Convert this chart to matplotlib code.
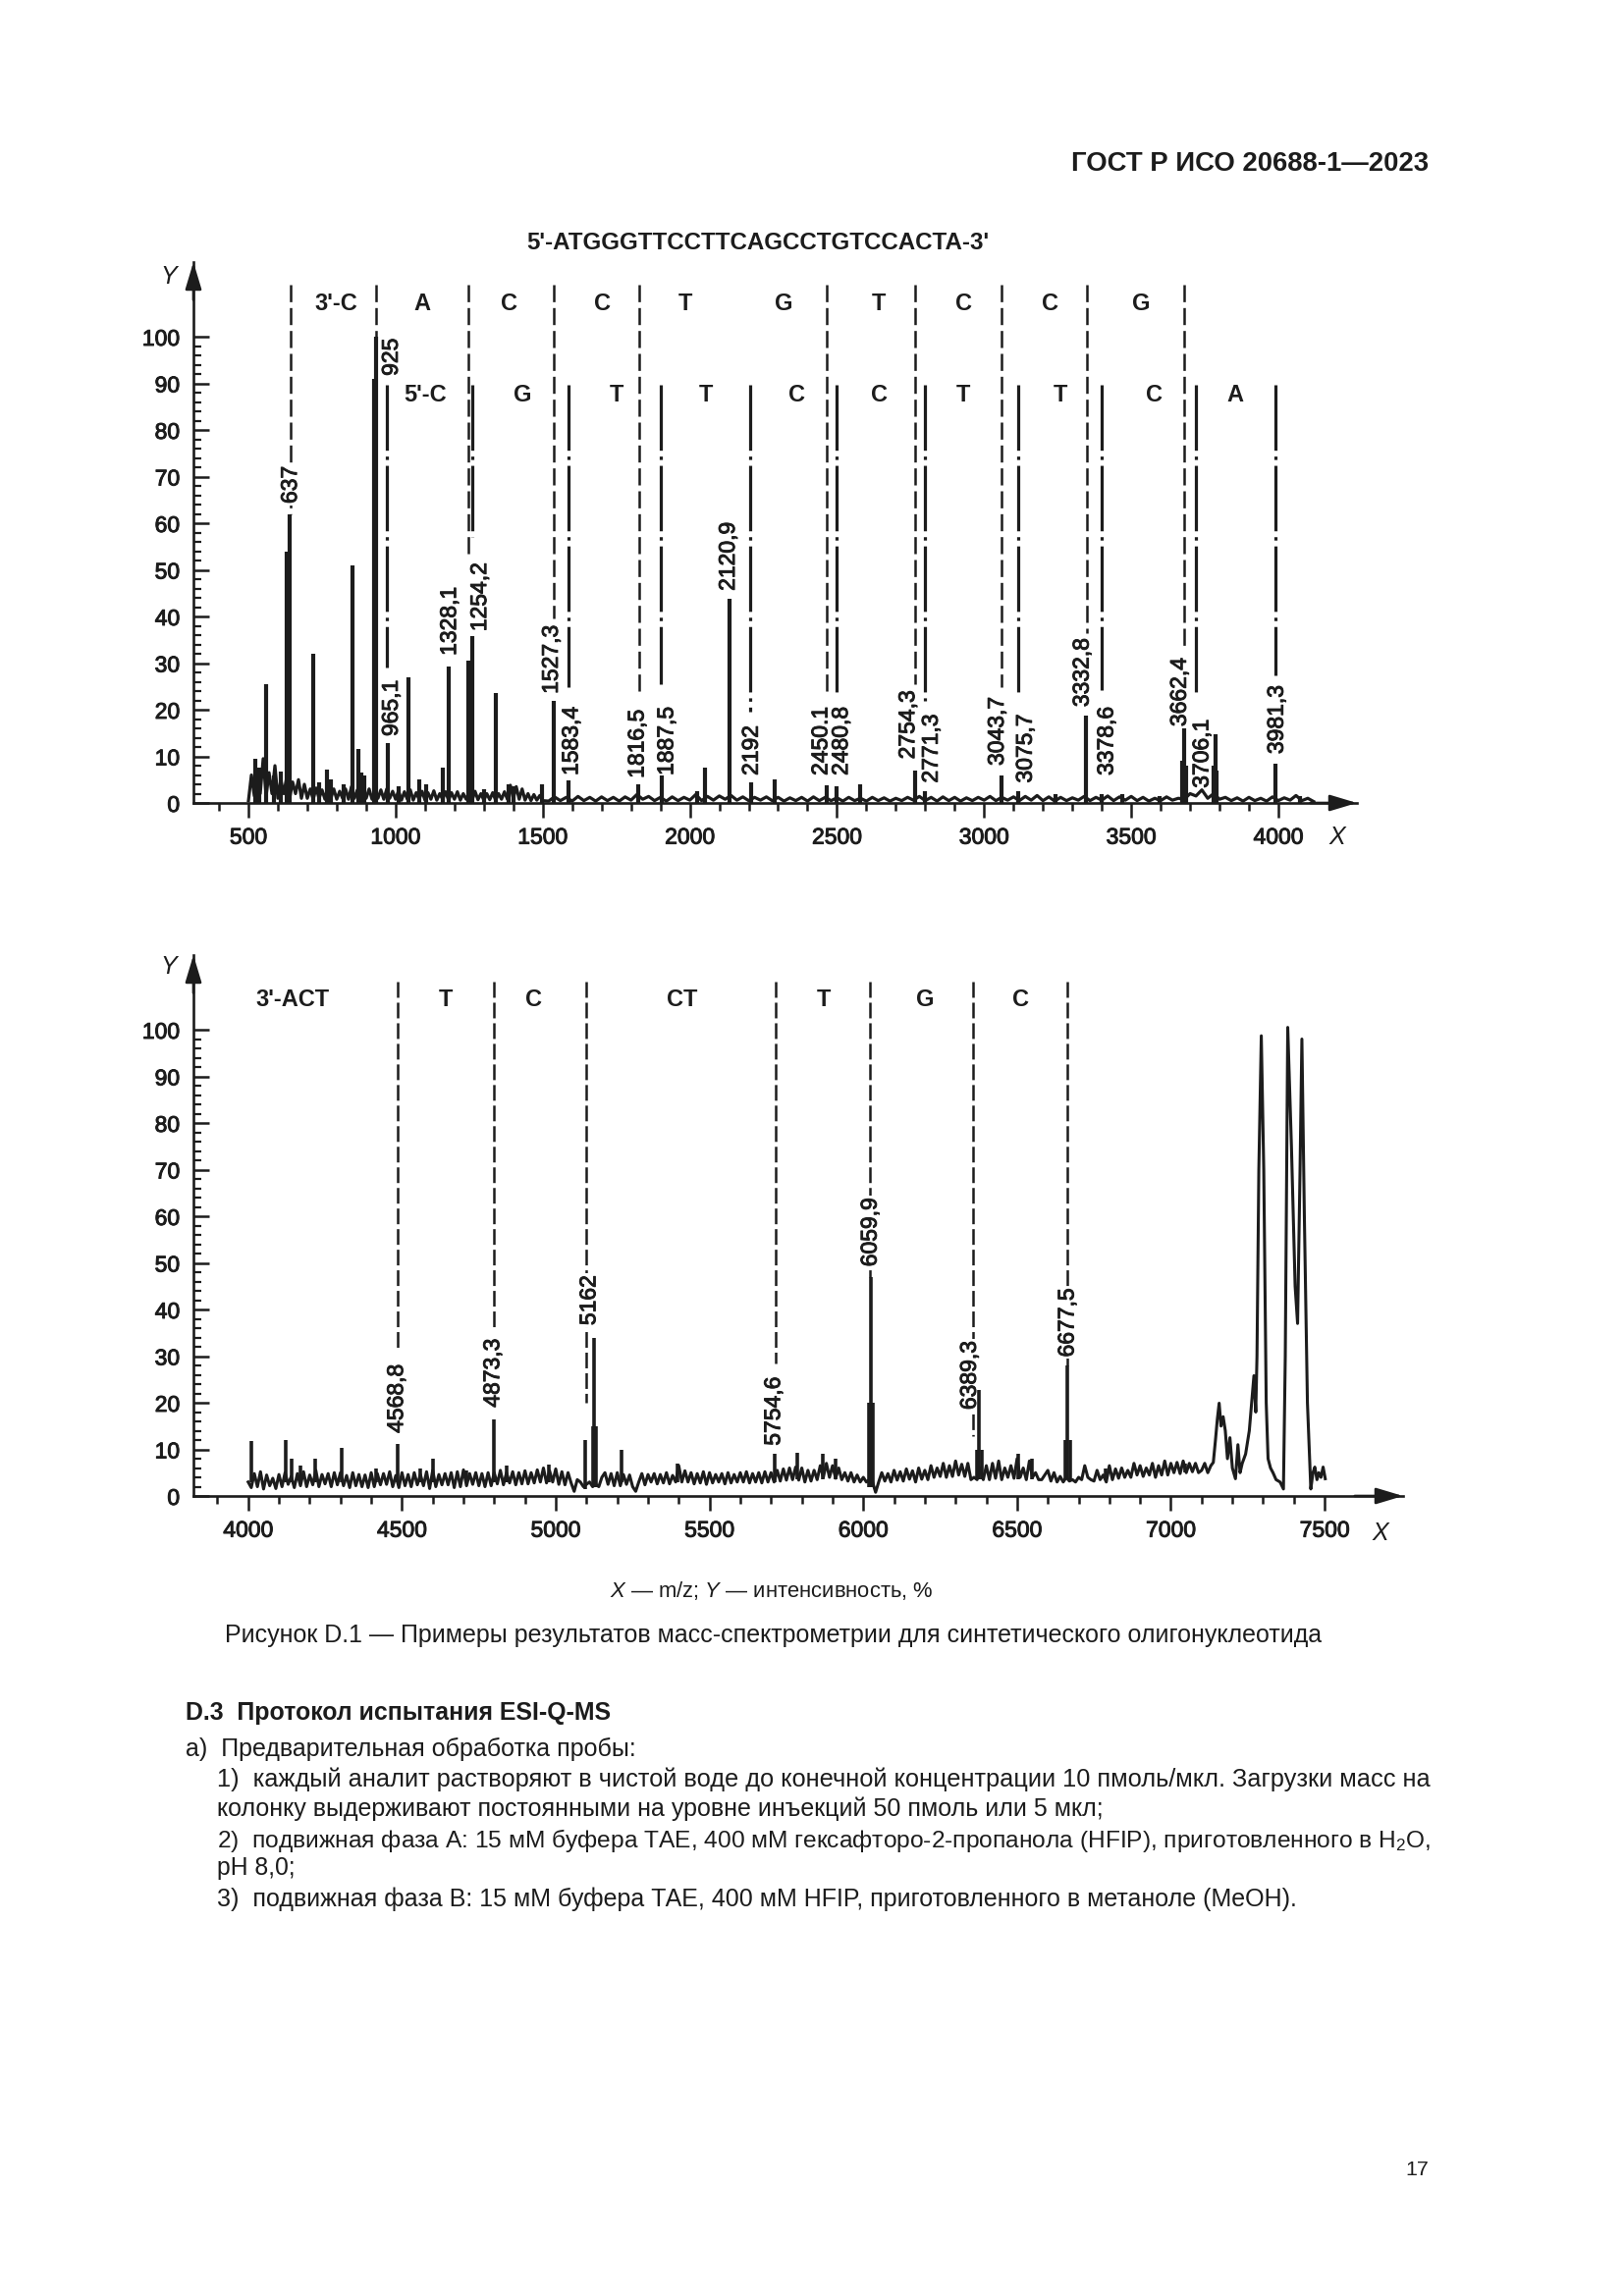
"""Page 17 of GOST R ISO 20688-1-2023: figure D.1 (mass spectra of a synthetic oligonucleotide) + text.

Peak positions/heights are read off the scanned page; labels are kept exactly as printed there
(they do not always sit on the axis value they name, so both are stored separately).
"""

import matplotlib

matplotlib.use("Agg")
import matplotlib.patheffects as pe
import matplotlib.pyplot as plt
import numpy as np

plt.rcParams["font.family"] = ["Liberation Sans", "DejaVu Sans"]
plt.rcParams["mathtext.fontset"] = "custom"
plt.rcParams["mathtext.rm"] = "Liberation Sans"
plt.rcParams["mathtext.it"] = "Liberation Sans:italic"
plt.rcParams["lines.scale_dashes"] = False

INK = "#1c1c1c"
W, H, DPI = 1654, 2339, 100
HEAVY = [pe.withStroke(linewidth=0.7, foreground=INK)]  # the scan prints chart numbers quite heavy

# --- top spectrum: 500..4120 m/z ---
top_noise_a = [  # 500..1500 step 10
    0.5, 6.0, 1.5, 5.5, 2.0, 9.5, 1.5, 6.5, 2.0, 8.0,
    1.0, 5.0, 2.0, 5.5, 1.0, 4.5, 2.0, 5.0, 1.0, 4.0,
    1.0, 3.0, 0.8, 3.2, 1.0, 2.8, 0.8, 3.5, 1.0, 3.0,
    0.8, 2.5, 1.0, 3.0, 0.8, 3.5, 1.0, 2.8, 0.8, 3.2,
    1.0, 3.0, 0.8, 2.6, 1.0, 2.8, 0.8, 3.0, 1.0, 2.5,
    0.8, 2.6, 0.6, 2.4, 0.8, 2.8, 0.6, 2.2, 0.8, 2.5,
    0.6, 2.2, 0.8, 2.6, 0.6, 2.0, 0.8, 2.4, 0.6, 2.2,
    0.8, 2.4, 0.6, 2.0, 0.8, 2.2, 0.6, 2.5, 0.7, 2.0,
    0.6, 2.0, 0.7, 2.2, 0.6, 2.0, 0.8, 2.4, 0.8, 3.8,
    1.0, 3.5, 0.8, 3.0, 0.6, 2.0, 0.5, 1.8, 0.6, 1.6,
    0.5,
]
top_noise_b = [  # 1520..4120 step 20
    0.4, 1.3, 0.5, 1.2, 0.4, 1.4, 0.5, 1.2, 0.4, 1.3,
    0.5, 1.2, 0.4, 1.3, 0.6, 1.8, 0.8, 1.4, 0.5, 1.2,
    0.4, 1.3, 0.5, 1.2, 0.6, 1.8, 0.5, 1.4, 0.6, 1.5,
    0.8, 1.6, 0.6, 1.3, 0.5, 1.2, 0.6, 1.3, 0.5, 1.2,
    0.4, 1.1, 0.5, 1.2, 0.4, 1.3, 0.5, 1.2, 0.5, 1.1,
    0.4, 1.2, 0.5, 1.0, 0.4, 1.2, 0.5, 1.1, 0.4, 1.0,
    0.5, 1.2, 0.6, 1.4, 0.5, 1.2, 0.4, 1.3, 0.5, 1.2,
    0.4, 1.1, 0.5, 1.2, 0.6, 1.4, 0.5, 1.2, 0.6, 1.3,
    0.5, 1.4, 0.6, 1.6, 0.5, 1.3, 0.4, 1.2, 0.5, 1.1,
    0.6, 1.4, 0.5, 1.2, 0.6, 1.5, 0.5, 1.3, 0.6, 1.4,
    0.5, 1.2, 0.4, 1.0, 0.5, 1.3, 0.6, 1.0, 0.8, 2.0,
    1.5, 2.8, 1.0, 2.0, 0.8, 1.2, 0.5, 1.1, 0.4, 1.2,
    0.5, 1.0, 0.4, 1.3, 0.5, 1.1, 0.6, 1.6, 0.5, 1.0,
    0.3,
]
top_peak_mz = [524, 538, 561, 585, 611, 631, 641, 721, 740, 766, 781, 823, 853, 873, 885,
               895, 928, 934, 972, 1009, 1044, 1082, 1105, 1161, 1180, 1247, 1262, 1300, 1340, 1385,
               1400, 1497, 1539, 1587, 1825, 1903, 2024, 2052, 2134, 2207, 2288, 2466, 2497, 2578, 2766,
               2798, 3058, 3116, 3241, 3347, 3399, 3471, 3595, 3674, 3680, 3686, 3779, 3785, 3791, 3990,
               4074]
top_peak_int = [9.5, 7.5, 25.5, 6.0, 6.8, 54.0, 62.0, 32.0, 4.5, 7.2, 5.0, 4.0, 51.0, 11.5, 6.5,
                6.0, 91.0, 100.0, 12.9, 3.5, 27.0, 5.0, 4.0, 7.5, 29.3, 30.5, 35.8, 3.0, 23.5, 4.0,
                3.5, 4.0, 21.9, 4.8, 4.0, 5.8, 2.5, 7.5, 43.8, 4.5, 5.0, 3.7, 3.5, 3.9, 7.0,
                2.5, 5.8, 2.5, 2.0, 18.7, 2.0, 2.0, 1.5, 9.0, 15.9, 8.0, 8.0, 14.7, 7.0, 8.4,
                1.5]

top_labels = ["637", "925", "965,1", "1328,1", "1254,2", "1527,3", "1583,4", "1816,5", "1887,5", "2120,9",
              "2192", "2450,1", "2480,8", "2754,3", "2771,3", "3043,7", "3075,7", "3332,8", "3378,6",
              "3662,4", "3706,1", "3981,3"]
top_label_mz = [642, 985, 985, 1183, 1286, 1529, 1597, 1821, 1921, 2130, 2209, 2445, 2514, 2741, 2820,
                3044, 3140, 3333, 3416, 3664, 3740, 3994]
top_label_y = [64.2, 91.6, 14.3, 31.6, 36.8, 23.4, 5.9, 5.3, 5.9, 45.5, 5.9, 5.9, 5.9, 9.4, 4.3,
               8.0, 4.3, 20.6, 5.9, 16.4, 3.2, 10.5]

# 3'-ladder (dashed) and 5'-ladder (dash-dot)
top_row1_mz = [642, 934, 1246, 1538, 1827, 2466, 2766, 3058, 3348, 3680]
top_row1_end = [62.0, 100.0, 52.2, 39.6, 23.4, 23.4, 25.5, 24.9, 36.5, 32.8]
top_row1_base = ["3'-C", "A", "C", "C", "T", "G", "T", "C", "C", "G"]
top_row1_base_mz = [798, 1089, 1386, 1702, 1985, 2319, 2642, 2931, 3223, 3533]
top_row2_mz = [971, 1260, 1586, 1902, 2206, 2497, 2798, 3117, 3399, 3719, 3990]
top_row2_end = [29.0, 57.1, 24.8, 25.5, 19.6, 23.4, 22.0, 23.3, 24.2, 22.8, 27.4]
top_row2_base = ["5'-C", "G", "T", "T", "C", "C", "T", "T", "C", "A"]
top_row2_base_mz = [1101, 1432, 1750, 2055, 2364, 2645, 2930, 3259, 3577, 3853]

# --- bottom spectrum: 4000..7500 m/z ---
bot_noise = [  # 4000..7100 step 10
    3.0, 1.8, 4.8, 2.0, 5.2, 1.5, 4.5, 2.2, 3.8, 1.6,
    4.6, 2.0, 5.0, 2.5, 4.2, 1.8, 4.8, 2.2, 5.2, 2.0,
    4.5, 2.4, 5.5, 2.0, 4.6, 2.6, 4.8, 2.0, 5.0, 2.4,
    5.0, 2.2, 4.4, 1.8, 5.0, 2.2, 4.6, 2.0, 4.5, 1.8,
    5.0, 2.0, 4.8, 2.4, 4.8, 2.5, 5.2, 2.0, 4.4, 1.8,
    5.0, 2.2, 4.6, 2.0, 5.0, 2.4, 4.6, 2.2, 5.2, 1.6,
    5.5, 2.0, 4.6, 2.4, 4.8, 2.4, 5.0, 1.8, 5.2, 2.0,
    5.6, 2.2, 4.8, 2.5, 5.0, 2.2, 4.8, 2.0, 5.0, 2.2,
    5.0, 2.6, 5.5, 2.4, 5.0, 2.8, 5.2, 2.4, 5.0, 2.6,
    5.4, 2.6, 5.0, 2.8, 5.6, 3.0, 6.0, 2.8, 5.4, 3.0,
    5.8, 2.5, 5.2, 2.4, 5.0, 2.8, 1.0, 3.5, 3.0, 2.0,
    2.5, 3.0, 2.0, 2.5, 2.0, 4.0, 5.0, 2.5, 4.8, 2.2,
    5.0, 2.2, 4.6, 2.5, 4.5, 2.0, 1.0, 3.0, 4.8, 2.4,
    4.6, 3.0, 4.8, 2.6, 4.6, 2.8, 5.0, 2.6, 4.4, 3.0,
    6.5, 3.0, 5.4, 3.0, 5.0, 2.6, 4.8, 2.8, 5.2, 2.5,
    5.0, 2.8, 4.6, 3.0, 4.8, 2.6, 5.0, 2.8, 4.6, 3.0,
    5.0, 3.0, 5.2, 2.8, 4.8, 3.0, 5.0, 2.8, 5.2, 3.0,
    5.0, 3.0, 5.5, 3.2, 5.8, 3.4, 6.0, 3.5, 6.2, 3.4,
    6.0, 3.0, 5.5, 3.2, 5.5, 3.5, 6.5, 4.0, 7.0, 4.0,
    6.5, 3.8, 6.0, 3.5, 5.0, 3.2, 5.0, 3.0, 4.5, 3.0,
    4.0, 3.0, 3.5, 3.0, 0.8, 3.0, 5.0, 3.2, 4.8, 3.0,
    5.5, 3.4, 5.2, 3.2, 5.8, 3.6, 5.4, 3.0, 6.0, 3.6,
    5.5, 3.5, 6.5, 4.0, 6.0, 4.2, 7.0, 4.0, 6.5, 4.2,
    7.5, 4.5, 6.8, 4.2, 7.0, 3.5, 4.0, 3.5, 6.0, 3.5,
    6.5, 3.5, 7.0, 3.8, 7.5, 3.5, 6.0, 4.0, 6.5, 3.8,
    8.0, 4.0, 6.0, 3.5, 7.5, 4.0, 5.0, 3.5, 3.5, 4.5,
    5.5, 3.2, 5.0, 3.0, 4.2, 3.0, 4.0, 3.2, 3.5, 3.0,
    4.0, 3.5, 6.5, 4.0, 3.5, 3.2, 5.5, 3.5, 4.5, 3.0,
    6.5, 3.5, 5.8, 3.8, 6.0, 4.0, 5.5, 4.0, 7.0, 4.5,
    6.5, 4.2, 6.0, 4.5, 7.0, 4.0, 6.5, 4.5, 7.5, 4.5,
    7.0, 5.0, 7.2, 4.8, 7.5, 5.0, 7.0, 5.2, 7.0, 5.0,
    5.5,
]
bot_tail_mz = [7110, 7120, 7130, 7138, 7145, 7151, 7157, 7163, 7170, 7177,
               7184, 7192, 7200, 7210, 7218, 7225, 7232, 7243, 7255, 7265,
               7270, 7276, 7280, 7286, 7294, 7302, 7310, 7316, 7324, 7332,
               7342, 7355, 7366, 7372, 7380, 7392, 7404, 7412, 7420, 7426,
               7434, 7444, 7455, 7462, 7468, 7475, 7481, 7488, 7495, 7502]
bot_tail_int = [7.0, 5.0, 6.5, 7.2, 12.0, 16.4, 19.9, 15.0, 17.0, 14.0,
                8.0, 12.5, 6.0, 3.7, 11.0, 5.0, 7.0, 9.0, 14.0, 22.0,
                25.8, 18.0, 30.0, 70.0, 98.7, 70.0, 20.0, 8.0, 6.0, 5.0,
                3.5, 3.0, 1.5, 30.0, 100.5, 75.0, 45.0, 37.0, 70.0, 98.0,
                60.0, 20.0, 1.5, 5.0, 6.2, 3.5, 5.0, 4.0, 6.2, 3.7]
bot_peak_mz = [4011, 4122, 4140, 4170, 4219, 4303, 4417, 4487, 4559, 4600, 4711, 4799, 4840, 4977,
               5096, 5120, 5126, 5132, 5213, 5396, 5712, 5784, 5867, 5910, 6018, 6025, 6032,
               6370, 6377, 6384, 6503, 6549, 6656, 6664, 6672, 6787, 7045]
bot_peak_base = [3.0, 3.0, 3.0, 3.0, 3.0, 3.0, 3.0, 3.0, 3.0, 3.0, 3.0, 3.0, 3.0, 3.0,
                 1.5, 2.0, 2.0, 2.0, 3.0, 3.0, 3.0, 3.5, 3.5, 3.5, 2.0, 2.0, 2.0,
                 3.5, 3.5, 3.5, 3.5, 3.5, 3.5, 3.5, 3.5, 3.5, 5.0]
bot_peak_int = [11.8, 12.0, 8.0, 6.5, 7.9, 10.4, 6.0, 11.2, 6.0, 7.9, 5.5, 16.5, 6.5, 6.8,
                12.0, 15.0, 34.0, 15.0, 10.0, 7.0, 9.0, 9.3, 9.0, 8.0, 20.0, 47.0, 20.0,
                10.0, 22.7, 10.0, 9.0, 8.0, 12.0, 27.9, 12.0, 6.0, 7.0]

bot_labels = ["4568,8", "4873,3", "5162", "5754,6", "6059,9", "6389,3", "6677,5"]
bot_label_mz = [4482, 4795, 5108, 5708, 6022, 6345, 6663]
bot_label_y = [13.5, 19.0, 36.6, 10.8, 49.2, 18.5, 29.8]
bot_line_mz = [4486, 4799, 5099, 5715, 6022, 6356, 6663]
bot_line_end = [31.0, 36.0, 20.0, 28.5, 47.0, 12.8, 27.9]
bot_base = ["3'-ACT", "T", "C", "CT", "T", "G", "C"]
bot_base_mz = [4145, 4643, 4927, 5412, 5871, 6200, 6513]

Y_MAJOR = [0, 10, 20, 30, 40, 50, 60, 70, 80, 90, 100]
TOP_XMAJOR = [500, 1000, 1500, 2000, 2500, 3000, 3500, 4000]
BOT_XMAJOR = [4000, 4500, 5000, 5500, 6000, 6500, 7000, 7500]

# page text: (text, left px, right px, centre y px, bold)
page_text = [
    ("ГОСТ Р ИСО 20688-1—2023", 1091, 1455, 167, True),
    ("5'-ATGGGTTCCTTCAGCCTGTCCACTA-3'", 536, 1007, 247, True),
    (r"$\mathit{X}$ — m/z; $\mathit{Y}$ — интенсивность, %", 621, 952, 1621, False),
    ("Рисунок D.1 — Примеры результатов масс-спектрометрии для синтетического олигонуклеотида",
     229, 1345, 1666, False),
    ("D.3  Протокол испытания ESI-Q-MS", 189, 622, 1745, True),
    ("а)  Предварительная обработка пробы:", 189, 648, 1782, False),
    ("1)  каждый аналит растворяют в чистой воде до конечной концентрации 10 пмоль/мкл. Загрузки масс на",
     221, 1456, 1813, False),
    ("колонку выдерживают постоянными на уровне инъекций 50 пмоль или 5 мкл;", 221, 1122, 1843, False),
    ("2)  подвижная фаза А: 15 мМ буфера ТАЕ, 400 мМ гексафторо-2-пропанола (HFIP), приготовленного в H$_2$O,",
     221, 1459, 1875, False),
    ("pH 8,0;", 221, 301, 1903, False),
    ("3)  подвижная фаза В: 15 мМ буфера ТАЕ, 400 мМ HFIP, приготовленного в метаноле (MeOH).",
     221, 1318, 1935, False),
    ("17", 1431, 1455, 2211, False),
]


def page_axes(fig, left, top, right, bottom):
    return fig.add_axes([left / W, 1 - bottom / H, (right - left) / W, (bottom - top) / H])


def style_axes(ax, xlim, xmajor):
    ax.set_xlim(*xlim)
    ax.set_ylim(0, 116)
    ax.patch.set_alpha(0)
    for s in ("top", "right"):
        ax.spines[s].set_visible(False)
    for s in ("left", "bottom"):
        ax.spines[s].set_linewidth(1.9)
        ax.spines[s].set_color(INK)
    ax.set_xticks(xmajor)
    ax.set_xticks(list(range(xmajor[0] - 100, xmajor[-1] + 1, 100)), minor=True)
    ax.set_yticks(Y_MAJOR)
    ax.set_yticks(list(range(0, 101, 2)), minor=True)
    ax.tick_params(axis="x", which="major", direction="out", length=11, width=1.8, pad=6,
                   labelsize=16.5, colors=INK)
    ax.tick_params(axis="x", which="minor", direction="out", length=6, width=1.8, colors=INK)
    ax.tick_params(axis="y", which="major", direction="in", length=11.5, width=1.8, pad=10,
                   labelsize=16.5, colors=INK)
    ax.tick_params(axis="y", which="minor", direction="in", length=6, width=1.6, colors=INK)
    arrow = dict(arrowstyle="-|>,head_length=0.6,head_width=0.18", color=INK, lw=1.9,
                 mutation_scale=28, shrinkA=0, shrinkB=0)
    ax.annotate("", xy=(1.0, 0), xytext=(0.96, 0), xycoords="axes fraction", textcoords="axes fraction",
                arrowprops=arrow, annotation_clip=False)
    ax.annotate("", xy=(0, 1.0), xytext=(0, 0.93), xycoords="axes fraction", textcoords="axes fraction",
                arrowprops=arrow, annotation_clip=False)


def ladder(ax, xs, ends, top, dashes, lw):
    for x, e in zip(xs, ends):
        ax.plot([x, x], [top, e], color=INK, lw=lw, dashes=dashes, zorder=1, solid_capstyle="butt")


def bases(ax, xs, names, y):
    for x, s in zip(xs, names):
        ax.text(x, y, s, ha="center", va="center", fontsize=17, fontweight="bold", color=INK)


def peak_labels(ax, xs, ys, names):
    for x, y, s in zip(xs, ys, names):
        ax.text(x, y, s, rotation=90, ha="center", va="bottom", fontsize=16.5, color=INK, zorder=2,
                path_effects=HEAVY, bbox=dict(boxstyle="square,pad=0.08", fc="white", ec="none"))


fig = plt.figure(figsize=(W / DPI, H / DPI), dpi=DPI)
fig.patch.set_facecolor("white")

# top spectrum
ax1 = page_axes(fig, 197, 267, 1382, 818)
style_axes(ax1, (313, 4267), TOP_XMAJOR)
top_mz = np.concatenate([np.arange(500, 1501, 10), np.arange(1520, 4121, 20)])
ax1.plot(top_mz, top_noise_a + top_noise_b, color=INK, lw=2.3, zorder=3)
ax1.vlines(top_peak_mz, 0, top_peak_int, color=INK, lw=3.0, zorder=3)
ladder(ax1, top_row1_mz, top_row1_end, 111.2, (12.5, 4.3), 1.8)
ladder(ax1, top_row2_mz, top_row2_end, 89.7, (48, 4.3, 2.5, 4.3), 2.3)
bases(ax1, top_row1_base_mz, top_row1_base, 107.0)
bases(ax1, top_row2_base_mz, top_row2_base, 87.4)
peak_labels(ax1, top_label_mz, top_label_y, top_labels)

# bottom spectrum
ax2 = page_axes(fig, 197, 973, 1429, 1524)
style_axes(ax2, (3822, 7755), BOT_XMAJOR)
bot_mz = np.concatenate([np.arange(4000, 7101, 10), bot_tail_mz])
ax2.plot(bot_mz, bot_noise + bot_tail_int, color=INK, lw=2.2, zorder=3)
ax2.vlines(bot_peak_mz, bot_peak_base, bot_peak_int, color=INK, lw=2.6, zorder=3)
ladder(ax2, bot_line_mz, bot_line_end, 110.3, (11.5, 3.6), 1.8)
bases(ax2, bot_base_mz, bot_base, 106.5)
peak_labels(ax2, bot_label_mz, bot_label_y, bot_labels)

# axis letters
for x, y, s in [(172, 282, "Y"), (1362, 853, "X"), (172, 985, "Y"), (1406, 1562, "X")]:
    fig.text(x / W, 1 - y / H, s, ha="center", va="center", fontsize=18, fontstyle="italic", color=INK)

# page text, each line fitted to its printed width
renderer = fig.canvas.get_renderer()
for s, x0, x1, y, bold in page_text:
    t = fig.text(x0 / W, 1 - y / H, s, ha="left", va="center", fontsize=16, color=INK,
                 fontweight="bold" if bold else "normal")
    w = t.get_window_extent(renderer).width
    t.set_fontsize(16 * (x1 - x0) / w)

fig.canvas.draw()
for ax in (ax1, ax2):
    for lbl in ax.get_xticklabels() + ax.get_yticklabels():
        lbl.set_path_effects(HEAVY)

fig.savefig("out.png", dpi=DPI, facecolor="white")
